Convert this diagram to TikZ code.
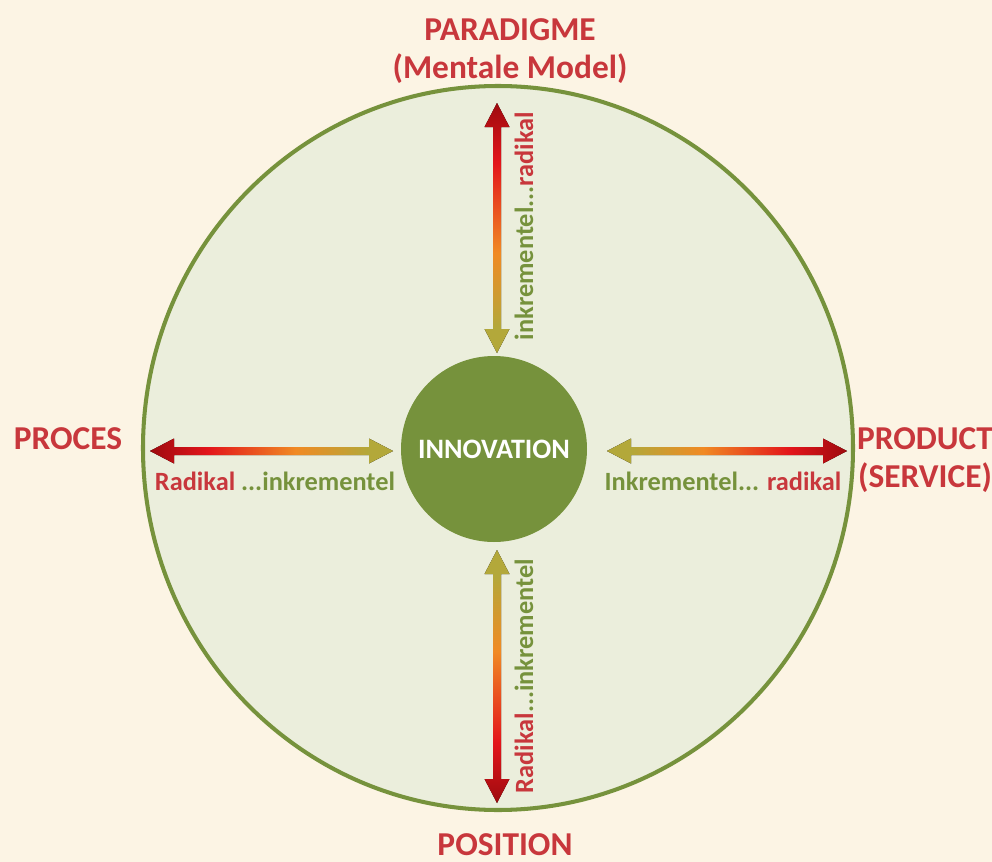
\documentclass[tikz,border=0pt]{standalone}
\usepackage{fontspec}
\setmainfont{Carlito}
\usepackage{tikz}

\definecolor{bgcream}{HTML}{FCF4E4}
\definecolor{discfill}{HTML}{EBEEDC}
\definecolor{leafgreen}{HTML}{76923C}
\definecolor{txtred}{HTML}{C8373C}
\definecolor{arrdark}{HTML}{9E0B0F}
\definecolor{arrred}{HTML}{E3151B}
\definecolor{arrorange}{HTML}{F08A24}
\definecolor{arrolive}{HTML}{B3A83A}

\pgfdeclarehorizontalshading{redolive}{100bp}{color(0bp)=(arrdark); color(25bp)=(arrdark); color(37bp)=(arrred); color(55bp)=(arrorange); color(70bp)=(arrolive); color(100bp)=(arrolive)}

\tikzset{
	outerlabel/.style={text=txtred, font=\bfseries\fontsize{19}{22}\selectfont, align=center},
	arrowlabel/.style={font=\bfseries\fontsize{15}{18}\selectfont, inner sep=0pt},
	gradarrow/.style={shading=redolive}
}

\begin{document}
\begin{tikzpicture}[x=0.02cm,y=-0.02cm]
	%Background
	\fill [bgcream] (0,0) rectangle (992,862);
	\useasboundingbox (0,0) rectangle (992,862);
	%Big disc
	\draw [leafgreen, line width=2.3pt, fill=discfill] (498,448) ellipse [x radius=355, y radius=362];
	%Inner disc
	\node (innov) [circle, fill=leafgreen, minimum size=186*0.02cm, inner sep=0pt, text=white, font=\bfseries\fontsize{16}{19}\selectfont] at (494,449) {INNOVATION};
	%Outer labels
	\node (paradigm) [outerlabel] at (510,51) {PARADIGME\\(Mentale Model)};
	\node (proces) [outerlabel] at (68,439) {PROCES};
	\node (product) [outerlabel] at (925,460) {PRODUCT\\(SERVICE)};
	\node (position) [outerlabel] at (505,845) {POSITION};
	%Arrows
	\fill [gradarrow] (150,451) -- (174,438.5) -- (174,447) -- (369,447) -- (369,438.5) -- (393,451) -- (369,463.5) -- (369,455) -- (174,455) -- (174,463.5) -- cycle;
	\fill [gradarrow, shading angle=180] (607,451) -- (631,438.5) -- (631,447) -- (823,447) -- (823,438.5) -- (847,451) -- (823,463.5) -- (823,455) -- (631,455) -- (631,463.5) -- cycle;
	\fill [gradarrow, shading angle=-90] (497,103) -- (509.5,127) -- (501,127) -- (501,329) -- (509.5,329) -- (497,353) -- (484.5,329) -- (493,329) -- (493,127) -- (484.5,127) -- cycle;
	\fill [gradarrow, shading angle=90] (497,550) -- (509.5,574) -- (501,574) -- (501,779) -- (509.5,779) -- (497,803) -- (484.5,779) -- (493,779) -- (493,574) -- (484.5,574) -- cycle;
	%Arrow labels
	\node (leftlab) [arrowlabel] at (275,481) {\textcolor{txtred}{Radikal} \textcolor{leafgreen}{...inkrementel}};
	\node (rightlab) [arrowlabel] at (723,481) {\textcolor{leafgreen}{Inkrementel...} \textcolor{txtred}{radikal}};
	\node (toplab) [arrowlabel, rotate=90] at (524,226) {\textcolor{leafgreen}{inkrementel...}\textcolor{txtred}{radikal}};
	\node (botlab) [arrowlabel, rotate=90] at (524,676) {\textcolor{txtred}{Radikal}\textcolor{leafgreen}{...inkrementel}};
\end{tikzpicture}
\end{document}
